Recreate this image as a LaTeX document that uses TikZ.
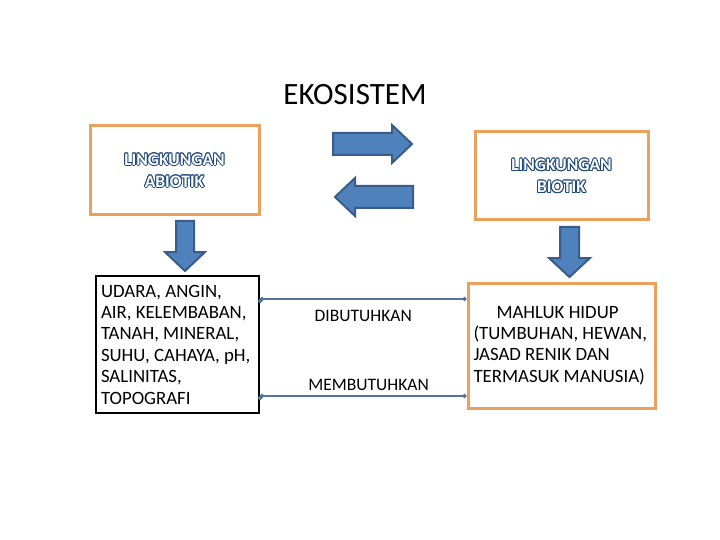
\documentclass[tikz,border=0pt]{standalone}
\usepackage{fontspec}
\setmainfont{Carlito}
\usetikzlibrary{arrows.meta}

\definecolor{boxorange}{RGB}{236,160,94}
\definecolor{arrowfill}{RGB}{79,129,189}
\definecolor{arrowline}{RGB}{56,93,138}
\definecolor{linkblue}{RGB}{80,116,152}
\definecolor{outlineblue}{RGB}{31,73,125}

\tikzset{
  envbox/.style={draw=boxorange,line width=3pt},
  blockarrow/.style={fill=arrowfill,draw=arrowline,line width=2pt,line join=miter},
  link/.style={draw=linkblue,line width=1.5pt,{Circle[length=4pt]}-{Circle[length=4pt]}},
  hollowtext/.style={align=center,font=\fontsize{17.5}{22}\selectfont\bfseries},
  listtext/.style={align=flush left,font=\fontsize{18.8}{21.4}\selectfont},
  linktext/.style={font=\fontsize{17.5}{20}\selectfont},
}

% outlined caption: blue copies round a white one
\newcommand{\hollowlabel}[3]{%
  \foreach \ang in {0,30,...,330}
    \node[hollowtext,text=outlineblue] at ([shift={(\ang:0.9pt)}]#1) {#3};
  \node[hollowtext,text=white] (#2) at (#1) {#3};}

\begin{document}
\begin{tikzpicture}[x=1pt,y=-1pt]
\fill[white] (0,0) rectangle (720,540);
\useasboundingbox (0,0) rectangle (720,540);

    \node[font=\fontsize{31}{36}\selectfont] (title) at (355,95) {EKOSISTEM};

    % the two environments
    \node[envbox,minimum width=169pt,minimum height=89pt] (abiotic) at (174.5,170.5) {};
    \node[envbox,minimum width=173pt,minimum height=88pt] (biotic) at (561.5,176) {};
    \hollowlabel{abiotic.center}{abiotictxt}{LINGKUNGAN\\ABIOTIK}
    \hollowlabel{biotic.center}{biotictxt}{LINGKUNGAN\\BIOTIK}

    % exchange arrows
    \draw[blockarrow] (333,133) -- (392,133) -- (392,125) -- (412,144) -- (392,163) -- (392,155) -- (333,155) -- cycle;
    \draw[blockarrow] (413,186) -- (355,186) -- (355,178) -- (335,197) -- (355,216) -- (355,208) -- (413,208) -- cycle;

    % down arrows
    \draw[blockarrow] (176,221) -- (194,221) -- (194,252) -- (205,252) -- (185,271) -- (165,252) -- (176,252) -- cycle;
    \draw[blockarrow] (560,227) -- (579,227) -- (579,258) -- (590,258) -- (569.5,277) -- (549,258) -- (560,258) -- cycle;

    % contents
    \node[draw,line width=2pt,minimum width=163pt,minimum height=137pt,listtext,text width=153pt] (factors) at (177.5,344.5)
        {UDARA, ANGIN,\\AIR, KELEMBABAN,\\TANAH, MINERAL,\\SUHU, CAHAYA, pH,\\SALINITAS,\\TOPOGRAFI};
    \node[envbox,minimum width=187pt,minimum height=125pt,listtext,text width=176pt] (mahluk) at (561.5,345.5)
        {\hspace*{23pt}MAHLUK HIDUP\\(TUMBUHAN, HEWAN,\\JASAD RENIK DAN\\TERMASUK MANUSIA)};

    \path[link] (factors.east |- 0,299) edge node[below=7pt,linktext]{DIBUTUHKAN} (mahluk.west |- 0,299);
    \path[link] (factors.east |- 0,396) edge node[pos=0.526,above=1pt,linktext]{MEMBUTUHKAN} (mahluk.west |- 0,396);

\end{tikzpicture}
\end{document}
